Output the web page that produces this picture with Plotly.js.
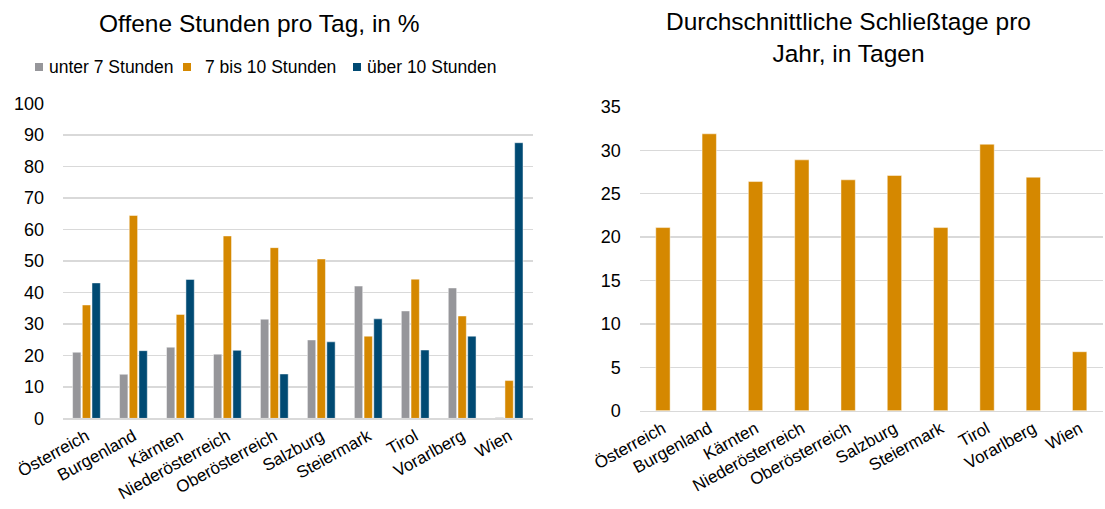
<!DOCTYPE html>
<html><head><meta charset="utf-8">
<script src="https://cdn.plot.ly/plotly-3.0.1.min.js"></script>
<style>html,body{margin:0;padding:0;background:#fff}#chart{width:1105px;height:509px}</style>
</head><body><div id="chart"></div>
<script>
const categories = ["Österreich","Burgenland","Kärnten","Niederösterreich","Oberösterreich","Salzburg","Steiermark","Tirol","Vorarlberg","Wien"];
const seriesNames = ["unter 7 Stunden","7 bis 10 Stunden","über 10 Stunden"];
const unter7 = [21.0, 14.0, 22.6, 20.4, 31.5, 24.9, 42.0, 34.1, 41.4, 0.3];
const von7bis10 = [36.0, 64.4, 33.0, 57.9, 54.2, 50.6, 26.1, 44.2, 32.5, 12.0];
const ueber10 = [43.0, 21.5, 44.1, 21.6, 14.1, 24.3, 31.6, 21.7, 26.1, 87.5];
const schliesstage = [21.1, 31.9, 26.4, 28.9, 26.6, 27.1, 21.1, 30.7, 26.9, 6.8];
const leftYTicks = [0,10,20,30,40,50,60,70,80,90,100];
const rightYTicks = [0,5,10,15,20,25,30,35];

const W = 1105, H = 509;
const colors = ["#96969a","#d58800","#004a73"];
const font = "Liberation Sans, Arial, sans-serif";
const line = {color:"rgba(255,255,255,0.6)", width:0.8};

const traces = [
  {type:"bar", name:seriesNames[0], x:categories, y:unter7, marker:{color:colors[0], line:line}, xaxis:"x", yaxis:"y"},
  {type:"bar", name:seriesNames[1], x:categories, y:von7bis10, marker:{color:colors[1], line:line}, xaxis:"x", yaxis:"y"},
  {type:"bar", name:seriesNames[2], x:categories, y:ueber10, marker:{color:colors[2], line:line}, xaxis:"x", yaxis:"y"},
  {type:"bar", name:"Schließtage", x:categories, y:schliesstage, width:0.31, marker:{color:colors[1], line:line}, xaxis:"x2", yaxis:"y2"}
];

const xCommon = {tickfont:{family:font, size:17, color:"#000"}, tickangle:-29, ticks:"", showgrid:false,
  showline:true, linecolor:"#d9d9d9", linewidth:1.5, zeroline:false, fixedrange:true};
const yCommon = {tickfont:{family:font, size:18, color:"#000"}, ticks:"", showgrid:true, gridcolor:"#d9d9d9",
  gridwidth:1.5, showline:false, zeroline:false, fixedrange:true, ticklabelstandoff:18};

// custom legend (left chart)
const legendItems = [
  {name:seriesNames[0], color:colors[0], sq:35, tx:47},
  {name:seriesNames[1], color:colors[1], sq:183, tx:203},
  {name:seriesNames[2], color:colors[2], sq:353, tx:365}
];
const legY = 67;
const shapes = legendItems.map(it => ({type:"rect", xref:"paper", yref:"paper",
  x0:it.sq/W, x1:(it.sq+8)/W, y0:1-(legY+4)/H, y1:1-(legY-4)/H, fillcolor:it.color, line:{width:0}}));
const legendAnn = legendItems.map(it => ({text:it.name, xref:"paper", yref:"paper", x:it.tx/W, y:1-legY/H,
  xanchor:"left", yanchor:"middle", showarrow:false, font:{family:font, size:17.5, color:"#000"}}));

const layout = {
  width:W, height:H,
  margin:{l:0, r:0, t:0, b:0},
  paper_bgcolor:"#fff", plot_bgcolor:"#fff",
  font:{family:font, color:"#000"},
  barmode:"group", bargap:0.38, bargroupgap:0.14,
  showlegend:false,
  xaxis:Object.assign({}, xCommon, {domain:[0.057,0.482], anchor:"y"}),
  yaxis:Object.assign({}, yCommon, {domain:[0.178,0.797], anchor:"x", range:[0,100], tickvals:leftYTicks}),
  xaxis2:Object.assign({}, xCommon, {domain:[0.579,0.998], anchor:"y2"}),
  yaxis2:Object.assign({}, yCommon, {domain:[0.193,0.790], anchor:"x2", range:[0,35], tickvals:rightYTicks}),
  shapes:shapes,
  annotations:[
    {text:"Offene Stunden pro Tag, in %", xref:"paper", yref:"paper", x:259/W, y:1-23/H, xanchor:"center", yanchor:"middle",
     showarrow:false, font:{family:font, size:24.5, color:"#000"}},
    {text:"Durchschnittliche Schließtage pro<br>Jahr, in Tagen", xref:"paper", yref:"paper", x:848/W, y:1-37/H, xanchor:"center", yanchor:"middle",
     showarrow:false, font:{family:font, size:24.5, color:"#000"}}
  ].concat(legendAnn)
};

Plotly.newPlot("chart", traces, layout, {displayModeBar:false, staticPlot:true});
</script>
</body></html>
